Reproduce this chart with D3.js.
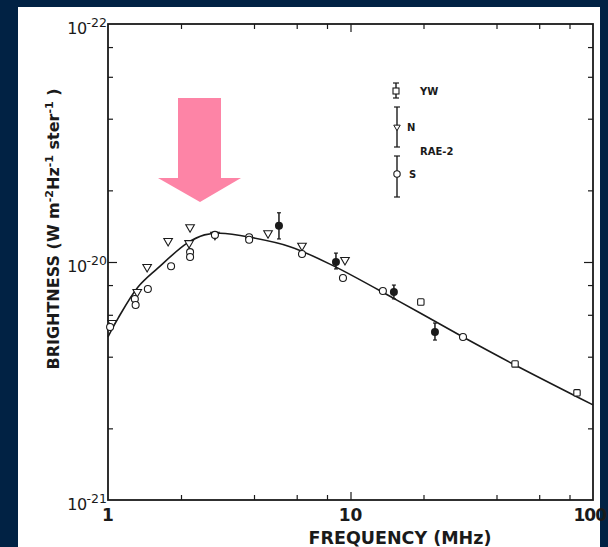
<!DOCTYPE html>
<html><head><meta charset="utf-8">
<script src="https://cdn.jsdelivr.net/npm/d3@7"></script>
<style>
html,body{margin:0;padding:0;background:#012244;}
svg{display:block;}
</style></head>
<body>
<svg id="chart" width="608" height="547"></svg>
<script>
// ---- data ----
const curveFreq   = [1.0, 1.1, 1.33, 1.6, 2.12, 2.5, 2.9, 3.85, 5.63, 8.39, 15.6, 29.1, 46.8, 100];
const curveBright = [4.85e-21, 5.8e-21, 7.85e-21, 9.4e-21, 1.20e-20, 1.30e-20, 1.32e-20, 1.27e-20, 1.16e-20, 9.7e-21, 6.9e-21, 4.84e-21, 3.73e-21, 2.51e-21];

const nFreq   = [1.04, 1.32, 1.45, 1.77, 2.18, 2.16, 2.76, 4.57, 6.31, 9.49];
const nBright = [5.54e-21, 7.48e-21, 9.53e-21, 1.225e-20, 1.40e-20, 1.20e-20, 1.30e-20, 1.32e-20, 1.17e-20, 1.02e-20];

const sFreq   = [1.02, 1.29, 1.30, 1.46, 1.82, 2.18, 2.18, 2.76, 3.82, 3.82, 6.31, 9.31, 13.6, 29.1];
const sBright = [5.33e-21, 6.99e-21, 6.6e-21, 7.7e-21, 9.6e-21, 1.10e-20, 1.05e-20, 1.30e-20, 1.27e-20, 1.24e-20, 1.08e-20, 8.57e-21, 7.55e-21, 4.84e-21];

const ywFreq   = [19.5, 47.7, 85.9];
const ywBright = [6.79e-21, 3.73e-21, 2.82e-21];

const fFreq   = [5.07, 8.71, 15.1, 22.3];
const fBright = [1.42e-20, 1.00e-20, 7.48e-21, 5.08e-21];
const fLo     = [1.25e-20, 9.35e-21, 7.0e-21, 4.7e-21];
const fHi     = [1.61e-20, 1.09e-20, 8.0e-21, 5.54e-21];

const xMajor = [1, 10, 100];
const xMajorLabels = ["1", "10", "100"];
const xMinor = [2, 4, 6, 8, 20, 40, 60, 80];
const yMajor = [1e-21, 1e-20, 1e-19];
const yMajorExp = ["-21", "-20", "-22"];
const yMinor = [2e-21, 4e-21, 6e-21, 8e-21, 2e-20, 4e-20, 6e-20, 8e-20];

const legendItems = ["YW", "N", "S"];
const legendGroup = "RAE-2";

// ---- drawing ----
const svg = d3.select("#chart");
const ink = "#1a1a1a";
const font = "'DejaVu Sans', sans-serif";

svg.append("rect").attr("x", 0).attr("y", 0).attr("width", 608).attr("height", 547).attr("fill", "#012244");
svg.append("rect").attr("x", 18).attr("y", 7).attr("width", 582).attr("height", 540).attr("fill", "#ffffff");

const L = 108, R = 593, T = 24, B = 500;
const x = d3.scaleLog().domain([1, 100]).range([L, R]);
const y = d3.scaleLog().domain([1e-21, 1e-19]).range([B, T]);

function styleAxis(g) {
  g.select(".domain").remove();
  g.selectAll("line").attr("stroke", ink).attr("stroke-width", 1.2);
  g.selectAll("text").remove();
}
const axes = [
  [d3.axisBottom(x).tickValues([10]).tickSize(-8), `translate(0,${B})`],
  [d3.axisBottom(x).tickValues(xMinor).tickSize(-5), `translate(0,${B})`],
  [d3.axisTop(x).tickValues([10]).tickSize(-8), `translate(0,${T})`],
  [d3.axisTop(x).tickValues(xMinor).tickSize(-5), `translate(0,${T})`],
  [d3.axisLeft(y).tickValues([1e-20]).tickSize(-9), `translate(${L},0)`],
  [d3.axisLeft(y).tickValues(yMinor).tickSize(-5), `translate(${L},0)`],
  [d3.axisRight(y).tickValues([1e-20]).tickSize(-9), `translate(${R},0)`],
  [d3.axisRight(y).tickValues(yMinor).tickSize(-5), `translate(${R},0)`]
];
axes.forEach(([ax, tr]) => svg.append("g").attr("transform", tr).call(ax).call(styleAxis));

svg.append("rect").attr("x", L).attr("y", T).attr("width", R - L).attr("height", B - T)
  .attr("fill", "none").attr("stroke", ink).attr("stroke-width", 1.8);

// y labels
yMajor.forEach((v, i) => {
  const t = svg.append("text").attr("x", L - 1).attr("y", y(v) + 10)
    .attr("text-anchor", "end").attr("font-family", font).attr("font-size", 16).attr("fill", ink);
  t.append("tspan").attr("letter-spacing", -0.5).text("10");
  t.append("tspan").attr("dy", -7).attr("font-size", 12.5).text(yMajorExp[i]);
});
// x labels
xMajor.forEach((v, i) => {
  const last = i === xMajor.length - 1;
  svg.append("text").attr("x", last ? 606 : x(v)).attr("y", B + 21)
    .attr("text-anchor", last ? "end" : "middle").attr("font-family", font).attr("font-weight", "bold")
    .attr("font-size", 17).attr("letter-spacing", last ? -1 : 0).attr("fill", ink).text(xMajorLabels[i]);
});
// x title
svg.append("text").attr("x", 400).attr("y", 544).attr("text-anchor", "middle")
  .attr("font-family", font).attr("font-weight", "bold").attr("font-size", 17.5).attr("fill", ink)
  .text("FREQUENCY (MHz)");
// y title
const yt = svg.append("text").attr("transform", "translate(59,229) rotate(-90)").attr("text-anchor", "middle")
  .attr("font-family", font).attr("font-weight", "bold").attr("font-size", 16).attr("fill", ink);
yt.append("tspan").text("BRIGHTNESS  (W m");
yt.append("tspan").attr("dy", -6).attr("font-size", 11).text("-2");
yt.append("tspan").attr("dy", 6).text("Hz");
yt.append("tspan").attr("dy", -6).attr("font-size", 11).text("-1");
yt.append("tspan").attr("dy", 6).text(" ster");
yt.append("tspan").attr("dy", -6).attr("font-size", 11).text("-1");
yt.append("tspan").attr("dy", 6).text(" )");

// curve
const cdata = curveFreq.map((f, i) => [f, curveBright[i]]);
svg.append("path").datum(cdata)
  .attr("d", d3.line().x(d => x(d[0])).y(d => y(d[1])).curve(d3.curveCatmullRom))
  .attr("fill", "none").attr("stroke", ink).attr("stroke-width", 1.6);

// markers
const tri = d3.symbol().type(d3.symbolTriangle).size(32);
nFreq.forEach((f, i) => {
  svg.append("path").attr("d", tri()).attr("transform", `translate(${x(f)},${y(nBright[i])}) rotate(180)`)
    .attr("fill", "#fff").attr("stroke", ink).attr("stroke-width", 1.1);
});
sFreq.forEach((f, i) => {
  svg.append("circle").attr("cx", x(f)).attr("cy", y(sBright[i])).attr("r", 3.5)
    .attr("fill", "#fff").attr("stroke", ink).attr("stroke-width", 1.1);
});
ywFreq.forEach((f, i) => {
  svg.append("rect").attr("x", x(f) - 3.2).attr("y", y(ywBright[i]) - 3.2).attr("width", 6.4).attr("height", 6.4)
    .attr("rx", 1).attr("fill", "#fff").attr("stroke", ink).attr("stroke-width", 1.1);
});
fFreq.forEach((f, i) => {
  const cx = x(f);
  svg.append("line").attr("x1", cx).attr("x2", cx).attr("y1", y(fHi[i])).attr("y2", y(fLo[i]))
    .attr("stroke", ink).attr("stroke-width", 1.5);
  [fHi[i], fLo[i]].forEach(v => svg.append("line").attr("x1", cx - 2).attr("x2", cx + 2)
    .attr("y1", y(v)).attr("y2", y(v)).attr("stroke", ink).attr("stroke-width", 1.2));
  svg.append("circle").attr("cx", cx).attr("cy", y(fBright[i])).attr("r", 4).attr("fill", ink);
});

// legend
const lg = svg.append("g");
function ebar(cx, y1, y2) {
  lg.append("line").attr("x1", cx).attr("x2", cx).attr("y1", y1).attr("y2", y2).attr("stroke", ink).attr("stroke-width", 1.4);
  [y1, y2].forEach(v => lg.append("line").attr("x1", cx - 3).attr("x2", cx + 3).attr("y1", v).attr("y2", v).attr("stroke", ink).attr("stroke-width", 1.2));
}
ebar(396, 83, 98);
lg.append("rect").attr("x", 393).attr("y", 88).attr("width", 6).attr("height", 6).attr("fill", "#fff").attr("stroke", ink).attr("stroke-width", 1.1);
ebar(397, 107, 147);
lg.append("path").attr("d", d3.symbol().type(d3.symbolTriangle).size(18)()).attr("transform", "translate(397,127) rotate(180)")
  .attr("fill", "#fff").attr("stroke", ink).attr("stroke-width", 1);
ebar(397, 156, 197);
lg.append("circle").attr("cx", 397).attr("cy", 174).attr("r", 3.2).attr("fill", "#fff").attr("stroke", ink).attr("stroke-width", 1.1);
const ltxt = (tx, ty, s) => lg.append("text").attr("x", tx).attr("y", ty).attr("font-family", font).attr("font-weight", "bold")
  .attr("font-size", 10).attr("fill", ink).text(s);
ltxt(420, 95, legendItems[0]);
ltxt(407, 131, legendItems[1]);
ltxt(420, 155, legendGroup);
ltxt(409, 178, legendItems[2]);

// pink arrow annotation
svg.append("path")
  .attr("d", "M178,98 L221,98 L221,178 L241,178 L200,202 L158,178 L178,178 Z")
  .attr("fill", "#fd84a6");
</script>
</body></html>
